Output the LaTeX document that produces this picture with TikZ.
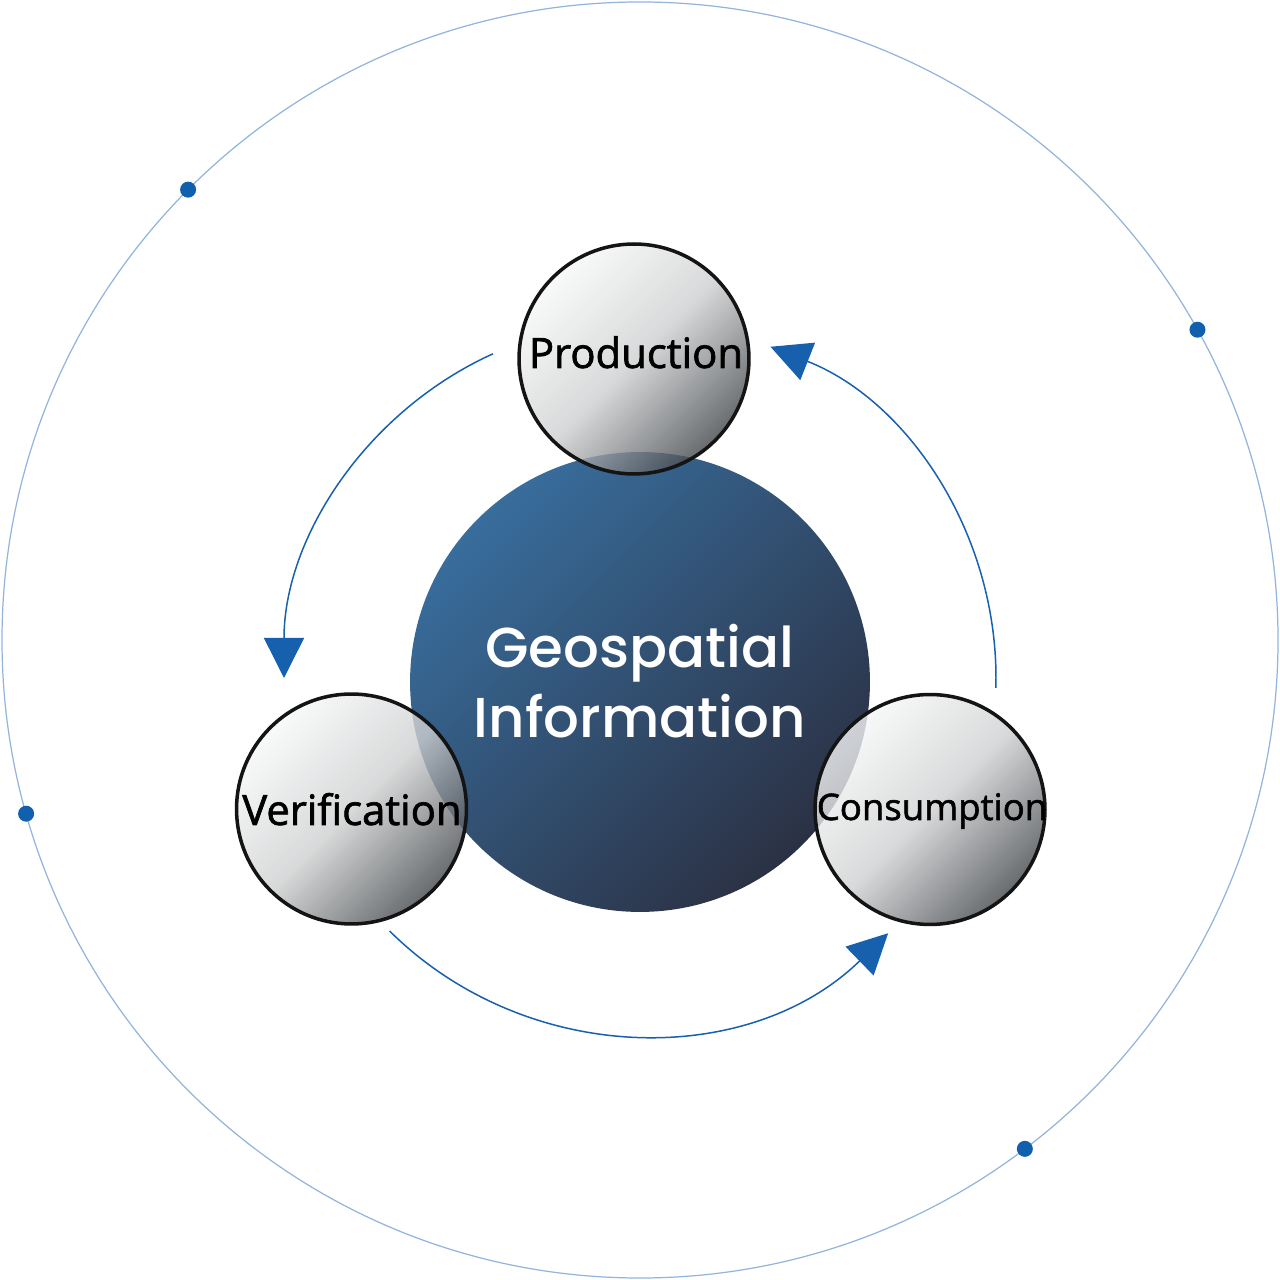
\documentclass[tikz,border=0pt]{standalone}
\usepackage{fontspec}
\setmainfont{Open Sans}
\newfontfamily\ballfont{Open Sans}[FakeBold=1.6]
\newfontfamily\popm{Poppins}[UprightFont={* Medium}]
\usetikzlibrary{arrows.meta,calc}
\definecolor{ringblue}{HTML}{93B4DC}
\definecolor{dotblue}{HTML}{1160AE}
\definecolor{arrblue}{HTML}{1660AE}
\definecolor{coretl}{HTML}{386D9C}
\definecolor{corebr}{HTML}{2B3144}
\definecolor{balllight}{HTML}{F7F8F8}
\definecolor{ballmid}{HTML}{CFD0D1}
\definecolor{balldark}{HTML}{43474B}
\begin{document}
\begin{tikzpicture}[x=0.02cm,y=0.02cm,
  ring/.style={draw=ringblue, line width=0.7pt},
  ringdot/.style={circle, fill=dotblue, inner sep=0pt, minimum size=0.32cm},
  core/.style={circle, minimum size=9.2cm, inner sep=0pt, top color=coretl, bottom color=corebr, shading angle=45},
  ball/.style={circle, minimum size=4.6cm, inner sep=0pt, draw=black!92, line width=2pt,
    top color=balllight, bottom color=balldark, middle color=ballmid, shading angle=45,
    fill opacity=0.8, draw opacity=1},
  balltext/.style={anchor=base, inner sep=0pt, text=black, font=\ballfont\fontsize{23.8}{28}\selectfont},
  coretext/.style={align=center, inner sep=0pt, text=white, font=\popm\fontsize{32}{40}\selectfont},
  cyc/.style={draw=arrblue, line width=0.85pt, -{Triangle[length=8mm,width=8mm]}}
]
\useasboundingbox (0,0) rectangle (1280,1280);
% outer ring
\coordinate (o) at (640,640);
\draw[ring] (o) circle[radius=638];
\node[ringdot] (d1) at ($(o)+(135.1:638)$) {};
\node[ringdot] (d2) at ($(o)+(29.1:638)$) {};
\node[ringdot] (d3) at ($(o)+(195.8:638)$) {};
\node[ringdot] (d4) at ($(o)+(307.1:638)$) {};
% core
\node[core] (core) at (640,598) {};
\node[coretext] (coreL) at (640,599) {Geospatial\\Information};
% cycle arcs
\coordinate (c) at (640,602);
\coordinate (a1) at ($(c)+(114.4:356)$);
\coordinate (a2) at ($(c)+(-1.6:356)$);
\coordinate (a3) at ($(c)+(225.3:356)$);
\draw[cyc] (a1) arc[start angle=114.4, end angle=180, radius=356];
\draw[cyc] (a2) arc[start angle=-1.6, end angle=68.5, radius=356];
\draw[cyc] (a3) arc[start angle=225.3, end angle=314.2, radius=356];
% balls
\node[ball] (prod) at (634,921) {};
\node[ball] (veri) at (351.5,471) {};
\node[ball] (cons) at (930,470.5) {};
\node[balltext] (prodL) at (636,912) {Production};
\node[balltext] (veriL) at (352,455) {Verification};
\node[balltext, font=\ballfont\fontsize{20.8}{26}\selectfont] (consL) at (932,460) {Consumption};
\end{tikzpicture}
\end{document}
